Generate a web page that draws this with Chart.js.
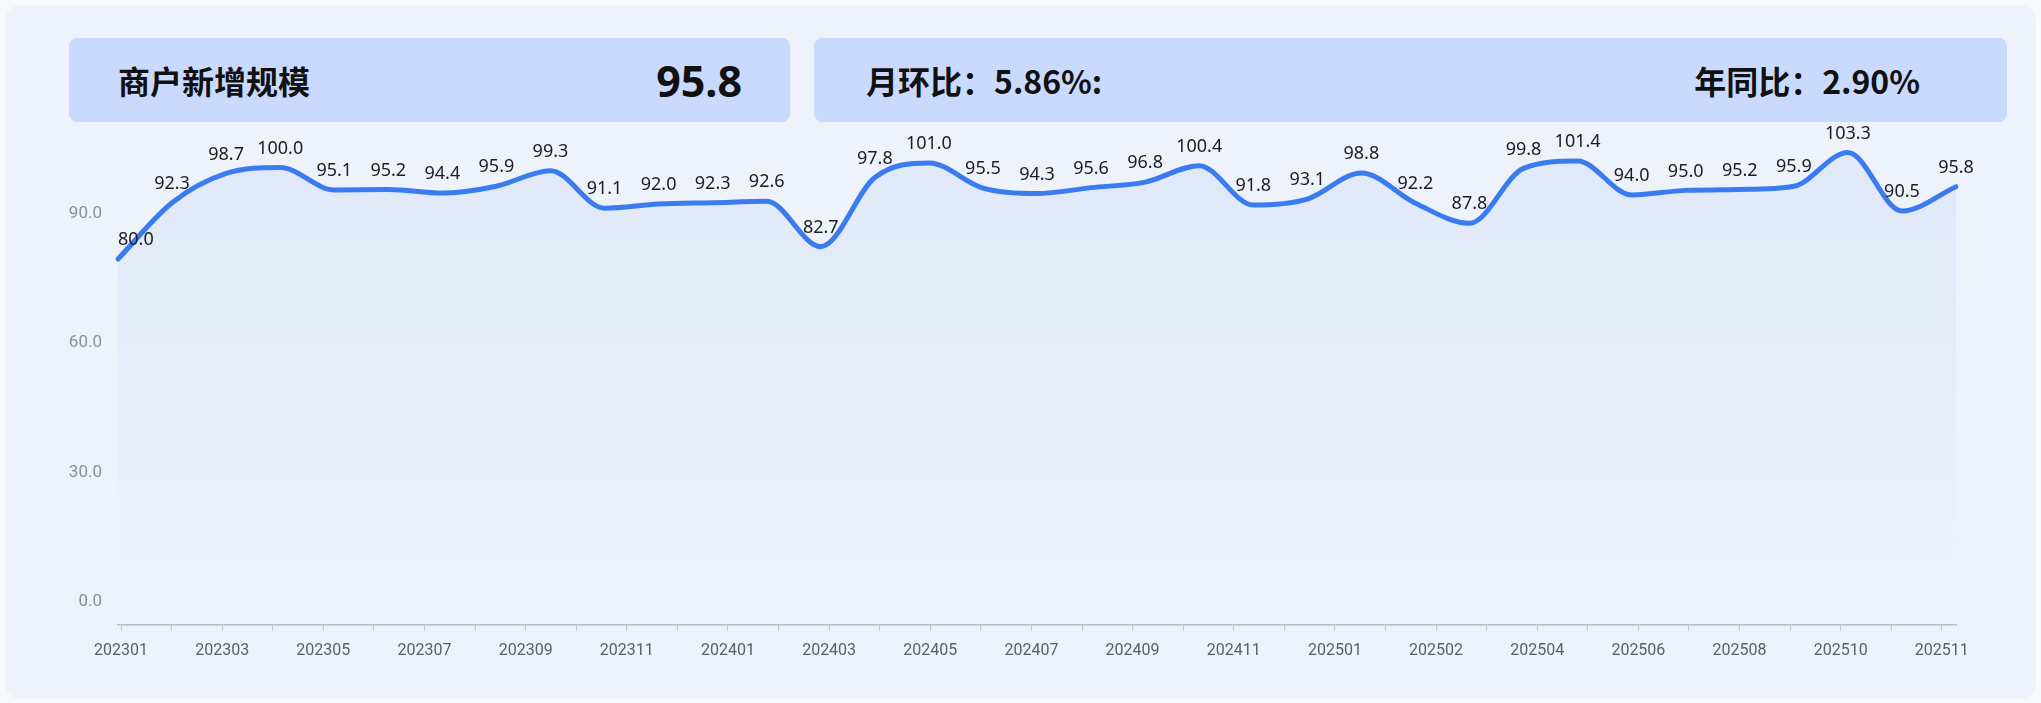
<!DOCTYPE html>
<html>
<head>
<meta charset="utf-8">
<script src="https://cdn.jsdelivr.net/npm/chart.js@4.4.1/dist/chart.umd.min.js"></script>
<style>
  html, body { margin: 0; padding: 0; background: #f8f9fd; }
  #wrap { position: relative; width: 2041px; height: 703px; overflow: hidden; }
  .card { position: absolute; left: 5px; top: 5px; width: 2031px; height: 694px; border-radius: 16px; background: #eef2fa; }
  canvas { position: absolute; left: 0; top: 0; }
  .box { position: absolute; top: 38px; height: 84px; border-radius: 8px; background: #c9dafe;
         display: flex; align-items: center; justify-content: space-between; box-sizing: border-box;
         font-family: "Noto Sans CJK SC", "Noto Sans", sans-serif; color: #111; }
  #box1 { left: 69px; width: 721px; padding: 0 48px 0 49px; }
  #box2 { left: 814px; width: 1193px; padding: 0 87px 0 52px; }
  .t { font-size: 32px; font-weight: 700; }
  .big { font-size: 43px; font-weight: 700; font-family: "Noto Sans", sans-serif; }
</style>
</head>
<body>
<div id="wrap">
  <div class="card"></div>
  <canvas id="chart" width="2041" height="703"></canvas>
  <div class="box" id="box1"><span class="t" id="title"></span><span class="big" id="value"></span></div>
  <div class="box" id="box2"><span class="t" id="mom"></span><span class="t" id="yoy"></span></div>
</div>
<script>
// 카테고리 (월)
const months = ['202301', '202302', '202303', '202304', '202305', '202306', '202307', '202308', '202309', '202310', '202311', '202312',
                '202401', '202402', '202403', '202404', '202405', '202406', '202407', '202408', '202409', '202410', '202411', '202412',
                '202501', '202502', '202503', '202504', '202505', '202506', '202507', '202508', '202509', '202510', '202511'];
// 商户新增规模
const values = [80.0, 92.3, 98.7, 100.0, 95.1, 95.2, 94.4, 95.9, 99.3, 91.1, 92.0, 92.3,
                92.6, 82.7, 97.8, 101.0, 95.5, 94.3, 95.6, 96.8, 100.4, 91.8, 93.1, 98.8,
                92.2, 87.8, 99.8, 101.4, 94.0, 95.0, 95.2, 95.9, 103.3, 90.5, 95.8];
// x축 눈금 라벨 (두 칸마다 하나)
const xTickLabels = ['202301', '202303', '202305', '202307', '202309', '202311', '202401', '202403', '202405', '202407',
                     '202409', '202411', '202501', '202502', '202504', '202506', '202508', '202510', '202511'];
const yTicks = [0, 30, 60, 90];

const headerTitle = '商户新增规模';
const headerValue = '95.8';
const momText = '月环比：5.86%:';
const yoyText = '年同比：2.90%';

document.getElementById('title').textContent = headerTitle;
document.getElementById('value').textContent = headerValue;
document.getElementById('mom').textContent = momText;
document.getElementById('yoy').textContent = yoyText;

// 데이터 라벨
const valueLabels = {
    id: 'valueLabels',
    afterDatasetsDraw(chart) {
        const { ctx, chartArea } = chart;
        const meta = chart.getDatasetMeta(0);
        ctx.save();
        ctx.font = '18px "Noto Sans", sans-serif';
        ctx.fillStyle = '#1b1d22';
        ctx.textAlign = 'center';
        ctx.textBaseline = 'middle';
        meta.data.forEach((pt, i) => {
            const t = values[i].toFixed(1);
            const w = ctx.measureText(t).width;
            const x = Math.max(pt.x, chartArea.left + w / 2);
            ctx.fillText(t, x, pt.y - 19);
        });
        ctx.restore();
    }
};

const ctx = document.getElementById('chart').getContext('2d');
new Chart(ctx, {
    type: 'line',
    data: {
        labels: months,
        datasets: [{
            data: values,
            borderColor: '#3a7cf0',
            borderWidth: 5,
            borderCapStyle: 'round',
            pointRadius: 0,
            cubicInterpolationMode: 'monotone',
            fill: 'origin',
            backgroundColor: (c) => {
                const area = c.chart.chartArea;
                if (!area) return 'rgba(59,124,240,0.08)';
                const g = c.chart.ctx.createLinearGradient(0, area.top, 0, 575);
                g.addColorStop(0, 'rgba(59,124,240,0.09)');
                g.addColorStop(1, 'rgba(59,124,240,0)');
                return g;
            }
        }]
    },
    options: {
        responsive: false,
        animation: false,
        layout: { padding: { left: 0, right: 85, top: 76, bottom: 38 } },
        plugins: { legend: { display: false }, tooltip: { enabled: false } },
        scales: {
            x: { display: false },
            x2: {
                type: 'linear',
                position: 'bottom',
                min: -0.06,
                max: 36.28,
                afterFit: (s) => { s.height = 40; },
                border: { color: '#b8bcc5', width: 1.5 },
                grid: { drawOnChartArea: false, drawTicks: true, tickLength: 6, color: '#c2c6ce' },
                ticks: {
                    stepSize: 1,
                    includeBounds: false,
                    autoSkip: false,
                    maxRotation: 0,
                    padding: 10,
                    color: '#5a606a',
                    font: { size: 16, family: 'Roboto, "Noto Sans", sans-serif' },
                    callback: (v) => (Number.isInteger(v) && v % 2 === 0) ? xTickLabels[v / 2] : ''
                }
            },
            y: { display: false, min: 0, max: 120 },
            y2: {
                type: 'linear',
                position: 'left',
                min: -5.3,
                max: 121.8,
                afterFit: (s) => { s.width = 118; },
                border: { display: false },
                grid: { display: false, drawTicks: false },
                ticks: {
                    stepSize: 30,
                    includeBounds: false,
                    padding: 16,
                    color: '#8b9099',
                    font: { size: 17, family: 'Roboto, "Noto Sans", sans-serif' },
                    callback: (v) => yTicks.includes(v) ? v.toFixed(1) : ''
                }
            }
        }
    },
    plugins: [valueLabels]
});
</script>
</body>
</html>
